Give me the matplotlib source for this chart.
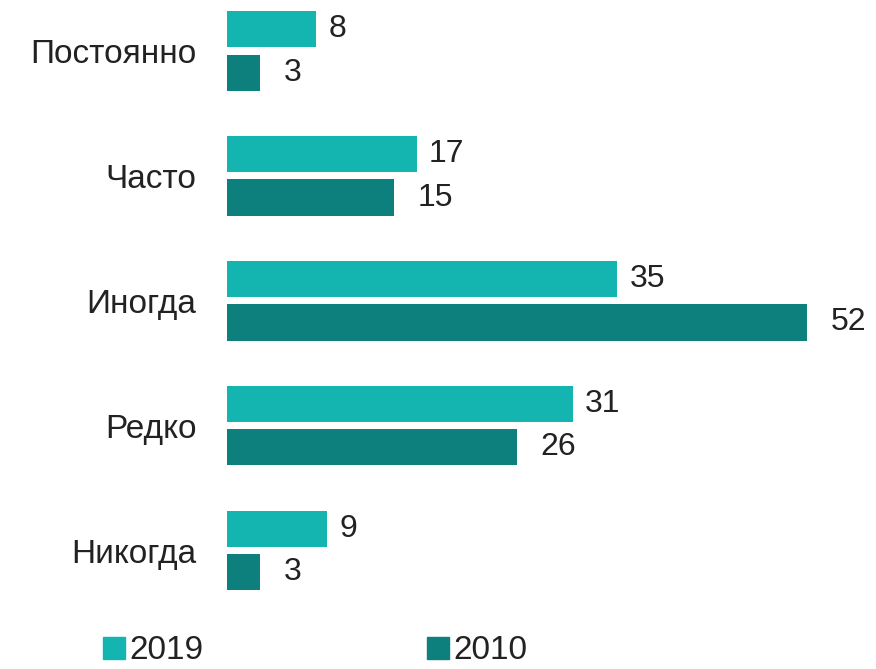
import numpy as np
import matplotlib.pyplot as plt
from matplotlib.patches import Patch

categories = ['Постоянно', 'Часто', 'Иногда', 'Редко', 'Никогда']
vals_2019 = [8, 17, 35, 31, 9]
vals_2010 = [3, 15, 52, 26, 3]
years = ['2019', '2010']

c2019 = '#14b5b1'
c2010 = '#0d7f7c'

plt.rcParams['font.family'] = ['Liberation Sans', 'DejaVu Sans']

fig = plt.figure(figsize=(8.76, 6.69), dpi=100)
ax = fig.add_axes([227 / 876, 0.0837, 647 / 876, 0.9335 * (4.9 / 5.0)])

y = np.arange(len(categories))
off = 0.174
h = 0.29
ax.barh(y - off, vals_2019, height=h, color=c2019)
ax.barh(y + off, vals_2010, height=h, color=c2010)

for i in range(len(categories)):
    ax.text(vals_2019[i] + 1.1, y[i] - off, str(vals_2019[i]), va='center', ha='left',
            fontsize=23, color='#222222')
    ax.text(vals_2010[i] + 2.1, y[i] + off, str(vals_2010[i]), va='center', ha='left',
            fontsize=23, color='#222222')

ax.set_xlim(0, 58)
ax.set_ylim(4.5, -0.4)
ax.set_yticks(y)
ax.set_yticklabels(categories, fontsize=24, color='#222222')
ax.tick_params(axis='y', length=0, pad=22)
ax.set_xticks([])
for s in ax.spines.values():
    s.set_visible(False)

handles = [Patch(color=c2019, label=years[0]), Patch(color=c2010, label=years[1])]
fig.legend(handles=handles, loc='lower left', bbox_to_anchor=(73 / 876, -0.041), ncol=2,
           frameon=False, fontsize=24, handlelength=0.65, handleheight=0.65,
           handletextpad=0.15, columnspacing=6.7, labelcolor='#222222')

fig.savefig('out.png', dpi=100)
